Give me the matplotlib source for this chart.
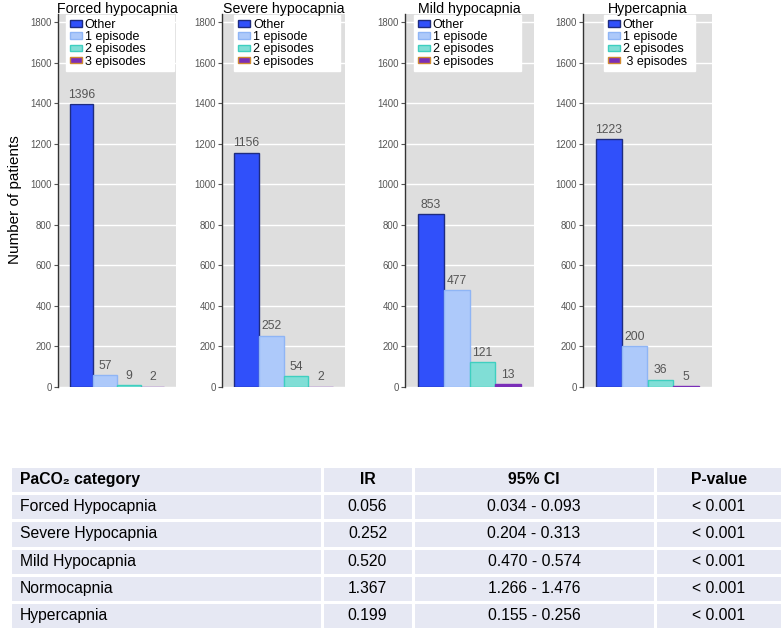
import matplotlib
matplotlib.use("Agg")
import matplotlib.pyplot as plt
from matplotlib.patches import Patch

plt.rcParams['font.family'] = ['Liberation Sans', 'DejaVu Sans']

# ---------------- data ----------------
panel_titles = ["Forced hypocapnia", "Severe hypocapnia", "Mild hypocapnia", "Hypercapnia"]
series_names = ["Other", "1 episode", "2 episodes", "3 episodes"]
forced_counts = [1396, 57, 9, 2]
severe_counts = [1156, 252, 54, 2]
mild_counts = [853, 477, 121, 13]
hyper_counts = [1223, 200, 36, 5]
panel_counts = [forced_counts, severe_counts, mild_counts, hyper_counts]
legend_labels_hyper = ["Other", "1 episode", "2 episodes", " 3 episodes"]
y_ticks = [0, 200, 400, 600, 800, 1000, 1200, 1400, 1600, 1800]

table_header = ["PaCO\u2082 category", "IR", "95% CI", "P-value"]
table_category = ["Forced Hypocapnia", "Severe Hypocapnia", "Mild Hypocapnia",
                  "Normocapnia", "Hypercapnia"]
table_ir = ["0.056", "0.252", "0.520", "1.367", "0.199"]
table_ci = ["0.034 - 0.093", "0.204 - 0.313", "0.470 - 0.574",
            "1.266 - 1.476", "0.155 - 0.256"]
table_p = ["< 0.001", "< 0.001", "< 0.001", "< 0.001", "< 0.001"]

# ---------------- style ----------------
fills = ["#3050FA", "#ADC9FA", "#80DED6", "#7A2EB8"]
edges = ["#1E2C80", "#8FB5F5", "#3FCFC0", "#7A2EB8"]
legend_edges = ["#1E2C80", "#8FB5F5", "#3FCFC0", "#D08A30"]

W, H = 782, 629
fig = plt.figure(figsize=(W / 100, H / 100), dpi=100)

panels_px = [(58, 176), (222, 345), (405, 534), (583, 712)]
legend_box = [(0.068, 0.915), (0.10, 0.86), (0.07, 0.83), (0.163, 0.705)]
top_px, bottom_px = 14, 387

for i, ((x0, x1), counts, title) in enumerate(zip(panels_px, panel_counts, panel_titles)):
    ax = fig.add_axes([x0 / W, 1 - bottom_px / H, (x1 - x0) / W, (bottom_px - top_px) / H])
    ax.set_facecolor("#DEDEDE")
    xs = list(range(len(counts)))
    ax.bar(xs, counts, width=1.0, color=fills, edgecolor=edges, linewidth=1.0, zorder=3)
    for x, v in zip(xs, counts):
        ax.annotate(str(v), (x, v), xytext=(0, 2.5), textcoords="offset points",
                    ha="center", va="bottom", fontsize=8.7, color="#555555", zorder=4)
    ax.set_xlim(-1, 4)
    ax.set_ylim(0, 1840)
    ax.set_yticks(y_ticks)
    ax.set_xticks([])
    ax.tick_params(axis="y", labelsize=6.9, colors="#555555", length=3, width=0.8, pad=1.5)
    ax.yaxis.grid(True, color="white", linewidth=1.0, zorder=0)
    ax.set_axisbelow(True)
    for s in ["top", "right", "bottom"]:
        ax.spines[s].set_visible(False)
    ax.spines["left"].set_color("#333333")
    ax.spines["left"].set_linewidth(1.0)
    fig.text((x0 + x1) / 2 / W, 1 - 9.5 / H, title, fontsize=10.2,
             ha="center", va="center", color="black")
    labels = legend_labels_hyper if i == 3 else series_names
    handles = [Patch(facecolor=f, edgecolor=e, linewidth=1.0) for f, e in zip(fills, legend_edges)]
    bx0, bw = legend_box[i]
    leg = ax.legend(handles, labels, loc="upper left",
                    bbox_to_anchor=(bx0, 0.997, bw, 0.0), mode="expand",
                    fontsize=9, frameon=True, fancybox=False, framealpha=1,
                    edgecolor="white", facecolor="white", borderaxespad=0,
                    handlelength=0.95, handleheight=0.4, handletextpad=0.25,
                    labelspacing=0.02, borderpad=0.3)
    leg.set_zorder(5)

fig.text(15 / W, 1 - 200 / H, "Number of patients", rotation=90, fontsize=11,
         ha="center", va="center", color="black")

# ---------------- table ----------------
tx0, tx1, ty_top = 10, 782, 466
tax = fig.add_axes([tx0 / W, 0, (tx1 - tx0) / W, (H - ty_top) / H])
tax.axis("off")
col_px = [312, 91, 242, 127]
tot = sum(col_px)
cell_text = [list(r) for r in zip(table_category, table_ir, table_ci, table_p)]
tbl = tax.table(cellText=cell_text, colLabels=table_header,
                colWidths=[c / tot for c in col_px], bbox=[0, 0, 1, 1], cellLoc="center")
tbl.auto_set_font_size(False)
for (r, c), cell in tbl.get_celld().items():
    cell.set_facecolor("#E6E8F3")
    cell.set_edgecolor("white")
    cell.set_linewidth(2.2)
    txt = cell.get_text()
    txt.set_fontsize(11.3)
    txt.set_color("black")
    if c == 0:
        txt.set_ha("left")
        cell.PAD = 10 / col_px[0]
        cell._loc = "left"
    if r == 0:
        txt.set_fontweight("bold")

fig.savefig("out.png", dpi=100)
